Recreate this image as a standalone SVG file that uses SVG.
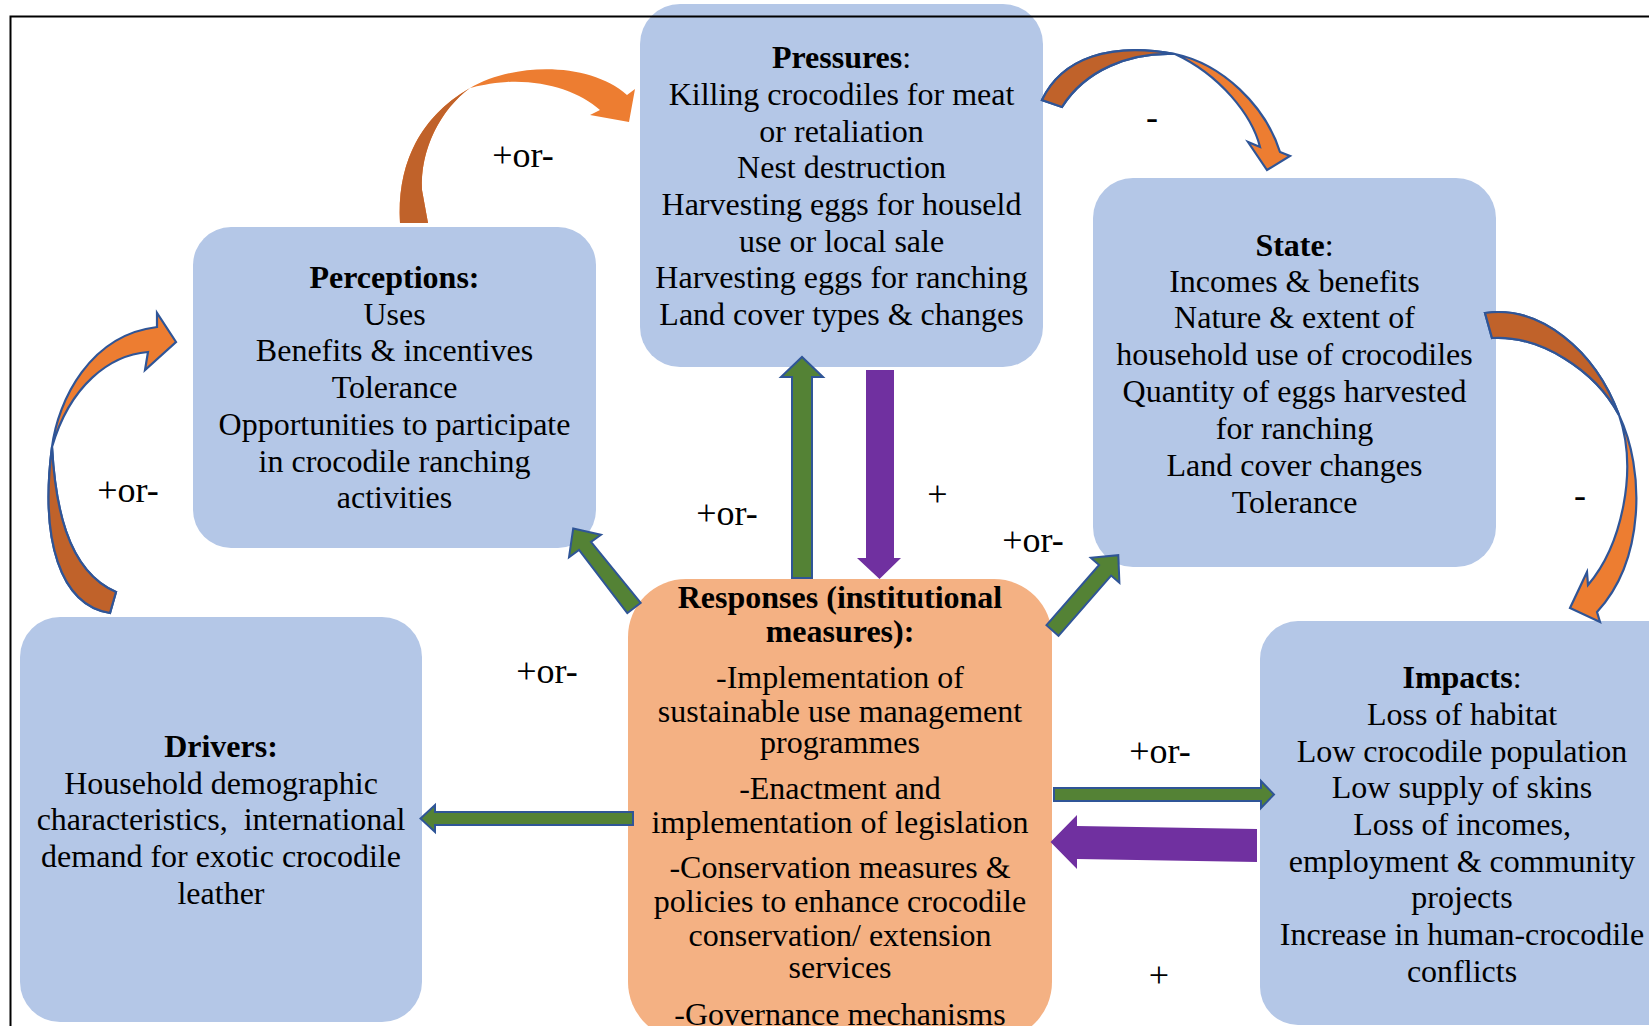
<svg xmlns="http://www.w3.org/2000/svg" width="1649" height="1026" viewBox="0 0 1649 1026">
<defs>
<style>
.box{fill:#B4C7E7;stroke:none}
.resp{fill:#F4B183;stroke:none}
.t{font-family:"Liberation Serif","Times New Roman",serif;font-size:32px;fill:#000;text-anchor:middle}
.b{font-weight:bold}
.lbl{font-family:"Liberation Serif","Times New Roman",serif;font-size:36px;fill:#000;text-anchor:middle}
.g{fill:#548235;stroke:#2F5597;stroke-width:2;stroke-linejoin:miter}
.p{fill:#7030A0;stroke:none}
.ol{fill:#ED7D31;stroke:#2F5597;stroke-width:2.2;stroke-linejoin:miter}
.od{fill:#C0622A;stroke:#2F5597;stroke-width:2.2;stroke-linejoin:miter}
.olf{fill:#ED7D31;stroke:none}
.odf{fill:#C0622A;stroke:none}
</style>
</defs>
<rect width="1649" height="1026" fill="#fff"/>

<g id="node-pressures">
<rect class="box" x="640" y="4" width="403" height="363" rx="40" ry="40"/>
<text class="t" x="841.5" y="68"><tspan class="b">Pressures</tspan>:</text>
<text class="t" x="841.5" y="105">Killing crocodiles for meat</text>
<text class="t" x="841.5" y="142">or retaliation</text>
<text class="t" x="841.5" y="178">Nest destruction</text>
<text class="t" x="841.5" y="215">Harvesting eggs for houseld</text>
<text class="t" x="841.5" y="252">use or local sale</text>
<text class="t" x="841.5" y="288">Harvesting eggs for ranching</text>
<text class="t" x="841.5" y="325">Land cover types &amp; changes</text>
</g>

<g id="node-perceptions">
<rect class="box" x="193" y="227" width="403" height="321" rx="38" ry="38"/>
<text class="t b" x="394.5" y="288">Perceptions:</text>
<text class="t" x="394.5" y="325">Uses</text>
<text class="t" x="394.5" y="361">Benefits &amp; incentives</text>
<text class="t" x="394.5" y="398">Tolerance</text>
<text class="t" x="394.5" y="435">Opportunities to participate</text>
<text class="t" x="394.5" y="472">in crocodile ranching</text>
<text class="t" x="394.5" y="508">activities</text>
</g>

<g id="node-state">
<rect class="box" x="1093" y="178" width="403" height="389" rx="40" ry="40"/>
<text class="t" x="1294.5" y="256"><tspan class="b">State</tspan>:</text>
<text class="t" x="1294.5" y="292">Incomes &amp; benefits</text>
<text class="t" x="1294.5" y="328">Nature &amp; extent of</text>
<text class="t" x="1294.5" y="365">household use of crocodiles</text>
<text class="t" x="1294.5" y="402">Quantity of eggs harvested</text>
<text class="t" x="1294.5" y="439">for ranching</text>
<text class="t" x="1294.5" y="476">Land cover changes</text>
<text class="t" x="1294.5" y="513">Tolerance</text>
</g>

<g id="node-drivers">
<rect class="box" x="20" y="617" width="402" height="405" rx="40" ry="40"/>
<text class="t b" x="221" y="757">Drivers:</text>
<text class="t" x="221" y="794">Household demographic</text>
<text class="t" x="221" y="830" xml:space="preserve" style="white-space:pre">characteristics,  international</text>
<text class="t" x="221" y="867">demand for exotic crocodile</text>
<text class="t" x="221" y="904">leather</text>
</g>

<g id="node-impacts">
<rect class="box" x="1260" y="621" width="460" height="404" rx="38" ry="38"/>
<text class="t" x="1462" y="688"><tspan class="b">Impacts</tspan>:</text>
<text class="t" x="1462" y="725">Loss of habitat</text>
<text class="t" x="1462" y="762">Low crocodile population</text>
<text class="t" x="1462" y="798">Low supply of skins</text>
<text class="t" x="1462" y="835">Loss of incomes,</text>
<text class="t" x="1462" y="872">employment &amp; community</text>
<text class="t" x="1462" y="908">projects</text>
<text class="t" x="1462" y="945">Increase in human-crocodile</text>
<text class="t" x="1462" y="982">conflicts</text>
</g>

<g id="node-responses">
<rect class="resp" x="628" y="579" width="424" height="461" rx="58" ry="58"/>
<text class="t b" x="840" y="608">Responses (institutional</text>
<text class="t b" x="840" y="642">measures):</text>
<text class="t" x="840" y="688">-Implementation of</text>
<text class="t" x="840" y="722">sustainable use management</text>
<text class="t" x="840" y="753">programmes</text>
<text class="t" x="840" y="799">-Enactment and</text>
<text class="t" x="840" y="833">implementation of legislation</text>
<text class="t" x="840" y="878">-Conservation measures &amp;</text>
<text class="t" x="840" y="912">policies to enhance crocodile</text>
<text class="t" x="840" y="946">conservation/ extension</text>
<text class="t" x="840" y="978">services</text>
<text class="t" x="840" y="1025">-Governance mechanisms</text>
</g>

<g id="connectors">
<path class="olf" d="M400,223 C397,170 415,120 470,88 C515,62 590,62 627,95 L635,89 L629,122 L590,115 L600,110 C580,92 545,80 507,82 C490,83 478,86 470,88 C440,110 420,150 422,190 L428,223 Z"/>
<path class="odf" d="M400,223 C397,170 415,120 470,88 C440,110 420,150 422,190 L428,223 Z"/>
<path class="ol" d="M1042,100 C1062,58 1110,42 1175,54 C1222,64 1265,105 1280,152 L1290,156 L1267,170 L1248,142 L1260,147 C1252,115 1220,75 1175,54 C1130,52 1085,70 1062,107 Z"/>
<path class="od" d="M1042,100 C1062,58 1110,42 1175,54 C1130,52 1085,70 1062,107 Z"/>
<path class="ol" d="M1485,313 C1540,305 1595,350 1619,415 C1645,470 1645,560 1597,612 L1600,622 L1570,608 L1587,572 L1588,585 C1622,545 1638,470 1619,415 C1595,370 1540,335 1492,338 Z"/>
<path class="od" d="M1485,313 C1540,305 1595,350 1619,415 C1595,370 1540,335 1492,338 Z"/>
<path class="ol" d="M110,613 C60,605 40,540 52,447 C58,400 90,335 157,327 L157,313 L176,342 L145,370 L148,352 C110,355 70,385 52,447 C55,500 65,570 116,592 Z"/>
<path class="od" d="M110,613 C60,605 40,540 52,447 C55,500 65,570 116,592 Z"/>

<polygon class="g" points="792,578 792,377 781,377 802,357 823,377 812,377 812,578"/>
<polygon class="p" points="866,370 894,370 894,558 901,558 879.5,579 857,558 866,558"/>
<polygon class="g" points="640.7,602.8 591,542 601,534.8 573.2,528.5 569,557.2 579,550 627.3,613.2"/>
<polygon class="g" points="1058.5,635.8 1111.1,575.6 1119.4,582.8 1118.3,555.2 1090.8,557.8 1099.1,565 1046.5,625.2"/>
<polygon class="g" points="633,812 435,812 435,805 420.5,818.5 435,832 435,825 633,825"/>
<polygon class="g" points="1054,788 1261,788 1261,781 1274,794.5 1261,808 1261,801 1054,801"/>
<polygon class="p" points="1257,829 1077,826 1077,815 1050.5,842 1077,869 1077,859 1257,862"/>

<text class="lbl" x="523" y="167">+or-</text>
<text class="lbl" x="1152" y="129">-</text>
<text class="lbl" x="128" y="502">+or-</text>
<text class="lbl" x="727" y="525">+or-</text>
<text class="lbl" x="937.5" y="506">+</text>
<text class="lbl" x="1033" y="552">+or-</text>
<text class="lbl" x="1580" y="507">-</text>
<text class="lbl" x="547" y="683">+or-</text>
<text class="lbl" x="1160" y="763">+or-</text>
<text class="lbl" x="1159" y="987">+</text>
</g>

<rect x="10.5" y="16.5" width="1700" height="1100" fill="none" stroke="#000" stroke-width="2"/>
</svg>
